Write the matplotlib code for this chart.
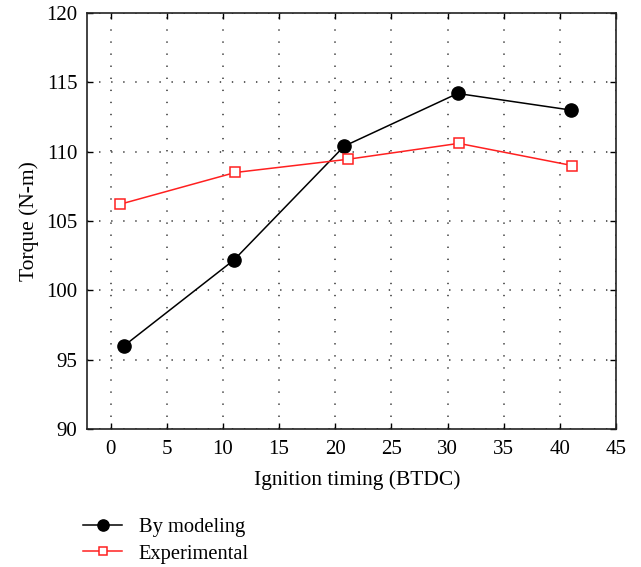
import matplotlib
matplotlib.use("Agg")
import matplotlib.pyplot as plt

plt.rcParams.update({
    "font.family": "serif",
    "font.serif": ["Liberation Serif", "DejaVu Serif"],
    "font.size": 14,
})

# ignition timing (deg BTDC) and torque (N-m)
model_x = [1.2, 11, 20.8, 30.9, 41]
model_y = [96.0, 102.2, 110.4, 114.2, 113.0]
exp_x = [0.8, 11.1, 21.1, 31, 41.1]
exp_y = [106.2, 108.5, 109.45, 110.6, 109.0]

x_ticks = list(range(0, 46, 5))
y_ticks = list(range(90, 121, 5))

fig = plt.figure(figsize=(6.41, 5.67), dpi=100)
ax = fig.add_axes([0.1357, 0.2434, 0.8253, 0.7336])

ax.plot(model_x, model_y, color="black", lw=1.1, marker="o", ms=9.5,
        label="By modeling")
ax.plot(exp_x, exp_y, color="#ff2020", lw=1.1, marker="s", ms=7.5,
        mfc="white", mec="#ff2020", mew=1.1, label="Experimental")

ax.set_xlim(-2.1, 45)
ax.set_ylim(90, 120)
ax.set_xticks(x_ticks)
ax.set_yticks(y_ticks)
ax.tick_params(direction="in", top=True, right=True, length=4, width=1,
               labelsize=15)
ax.tick_params(axis="x", pad=8)
ax.tick_params(axis="y", pad=7)
ax.grid(True, color="#333333", linestyle=(0, (0.9, 7)), linewidth=1.1)
for s in ax.spines.values():
    s.set_linewidth(1.2)
    s.set_color("#222222")

ax.set_xlabel("Ignition timing (BTDC)", fontsize=15.5)
ax.xaxis.set_label_coords(0.51, -0.1)
ax.set_ylabel("Torque (N-m)", fontsize=15.5, labelpad=5)

fig.legend(loc="upper left", bbox_to_anchor=(0.13, 0.087), frameon=False,
           fontsize=14.8, handlelength=1.9, handletextpad=0.8,
           labelspacing=0.35, borderaxespad=0, borderpad=0, markerscale=0.85)

fig.savefig("out.png", dpi=100)
